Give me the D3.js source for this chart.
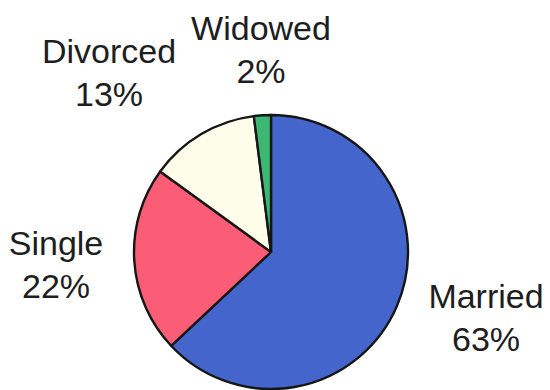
<!DOCTYPE html>
<html>
<head>
<meta charset="utf-8">
<script src="https://cdn.jsdelivr.net/npm/d3@7"></script>
<style>
  html, body { margin: 0; padding: 0; background: #ffffff; }
  svg { display: block; }
  text { font-family: "Liberation Sans", Arial, sans-serif; fill: #1e1e1e; }
</style>
</head>
<body>
<svg id="chart" width="550" height="390"></svg>
<script>
// Marital status breakdown (percent of respondents)
const categories = ["Married", "Single", "Divorced", "Widowed"];
const values = [63, 22, 13, 2];
const colors = ["#4466cc", "#fb5d76", "#fdfdea", "#3cb873"];

// Label block centres, as offsets from the pie centre
const labelOffsets = [[215, 65], [-215, 12], [-162, -180], [-10, -203]];

const width = 550, height = 390;
const cx = 271, cy = 252, radius = 137;
const fontSize = 34, lineGap = 43;

const svg = d3.select("#chart");
const g = svg.append("g").attr("transform", `translate(${cx},${cy})`);

const pie = d3.pie().sort(null).value(d => d.value).startAngle(0).endAngle(2 * Math.PI);
const arc = d3.arc().innerRadius(0).outerRadius(radius);

const data = categories.map((c, i) => ({ name: c, value: values[i], color: colors[i], offset: labelOffsets[i] }));
const arcs = pie(data);

g.selectAll("path.slice")
  .data(arcs)
  .join("path")
  .attr("class", "slice")
  .attr("d", arc)
  .attr("fill", d => d.data.color)
  .attr("stroke", "#161616")
  .attr("stroke-width", 2.4)
  .attr("stroke-linejoin", "round");

const total = d3.sum(values);
const labels = g.selectAll("g.label")
  .data(arcs)
  .join("g")
  .attr("class", "label")
  .attr("transform", d => `translate(${d.data.offset[0]},${d.data.offset[1]})`);

labels.append("text")
  .attr("text-anchor", "middle")
  .attr("font-size", fontSize)
  .attr("y", -lineGap / 2 + fontSize * 0.36)
  .text(d => d.data.name);

labels.append("text")
  .attr("text-anchor", "middle")
  .attr("font-size", fontSize)
  .attr("y", lineGap / 2 + fontSize * 0.36)
  .text(d => d3.format(".0f")(d.data.value / total * 100) + "%");
</script>
</body>
</html>
